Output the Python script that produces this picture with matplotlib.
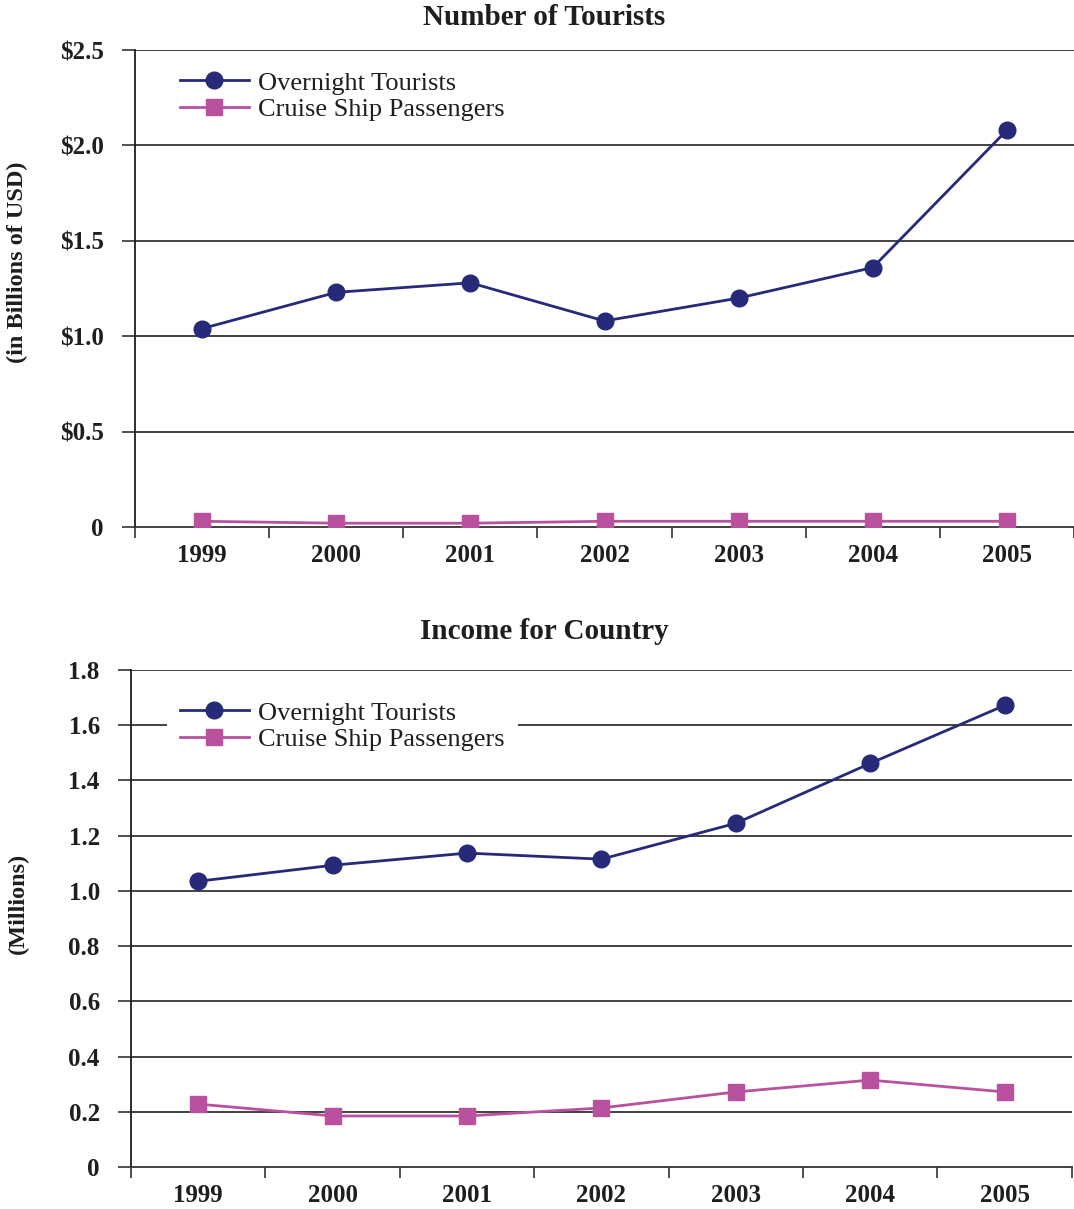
import matplotlib
matplotlib.use("Agg")
import matplotlib.pyplot as plt
import numpy as np

plt.rcParams['font.family'] = ['Liberation Serif', 'DejaVu Serif']

years = ['1999', '2000', '2001', '2002', '2003', '2004', '2005']

# top chart: Number of Tourists (in Billions of USD)
tourists_overnight = [1.04, 1.23, 1.28, 1.08, 1.20, 1.36, 2.08]
tourists_cruise = [0.03, 0.02, 0.02, 0.03, 0.03, 0.03, 0.03]
top_ticks = [0, 0.5, 1.0, 1.5, 2.0, 2.5]
top_labels = ['0', '$0.5', '$1.0', '$1.5', '$2.0', '$2.5']

# bottom chart: Income for Country (Millions)
income_overnight = [1.035, 1.093, 1.137, 1.115, 1.245, 1.462, 1.672]
income_cruise = [0.228, 0.185, 0.185, 0.214, 0.272, 0.315, 0.272]
bot_ticks = [0, 0.2, 0.4, 0.6, 0.8, 1.0, 1.2, 1.4, 1.6, 1.8]
bot_labels = ['0', '0.2', '0.4', '0.6', '0.8', '1.0', '1.2', '1.4', '1.6', '1.8']

navy = '#262a78'
pink = '#b9519f'
ink = '#1e1e1e'

fig = plt.figure(figsize=(10.74, 12.09), dpi=100)
ax1 = fig.add_axes([0.1257, 0.5641, 0.8743, 0.3945])
ax2 = fig.add_axes([0.122, 0.0347, 0.876, 0.4111])


def draw(ax, over, cruise, ticks, labels, ylabel, ylab_xy, leg_xy):
    x = np.arange(len(years))
    for t in ticks[1:]:
        ax.axhline(t, color='#333333', lw=1.3, zorder=1)
    ax.plot(x, over, color=navy, lw=2, marker='o', ms=12, label='Overnight Tourists', zorder=3)
    ax.plot(x, cruise, color=pink, lw=2, marker='s', ms=11, label='Cruise Ship Passengers', zorder=3)
    ax.set_xlim(-0.5, len(years) - 0.5)
    ax.set_ylim(0, ticks[-1])
    ax.set_yticks(ticks)
    ax.set_yticklabels(labels)
    ax.set_xticks(x)
    ax.set_xticklabels(years)
    ax.set_xticks(np.arange(-0.5, len(years)), minor=True)
    ax.tick_params(axis='x', which='major', length=0, pad=12)
    ax.tick_params(axis='x', which='minor', length=8, width=1.2, color='#333333')
    ax.tick_params(axis='y', length=9.5, width=1.2, color='#333333', pad=13)
    for lab in ax.get_xticklabels() + ax.get_yticklabels():
        lab.set_fontsize(18)
        lab.set_fontweight('bold')
        lab.set_color(ink)
    ax.spines['top'].set_visible(False)
    ax.spines['right'].set_visible(False)
    ax.spines['left'].set_color(ink)
    ax.spines['left'].set_linewidth(1.3)
    ax.spines['bottom'].set_color('#333333')
    ax.spines['bottom'].set_linewidth(1.3)
    ax.set_ylabel(ylabel, fontsize=17.5, fontweight='bold', color=ink)
    ax.yaxis.set_label_coords(*ylab_xy)
    leg = ax.legend(loc='upper left', bbox_to_anchor=leg_xy, fontsize=19, frameon=True,
                    fancybox=False, edgecolor='none', facecolor='white', framealpha=1,
                    handlelength=2.6, handletextpad=0.35, labelspacing=0.12,
                    borderpad=0.5, borderaxespad=0)
    leg.set_zorder(5)
    for txt in leg.get_texts():
        txt.set_color(ink)


draw(ax1, tourists_overnight, tourists_cruise, top_ticks, top_labels,
     '(in Billions of USD)', (-0.114, 0.556), (0.034, 0.9835))
draw(ax2, income_overnight, income_cruise, bot_ticks, bot_labels,
     '(Millions)', (-0.109, 0.531), (0.038, 0.964))

fig.text(0.507, 0.9855, 'Number of Tourists', ha='center', va='center',
         fontsize=21, fontweight='bold', color=ink)
fig.text(0.507, 0.4780, 'Income for Country', ha='center', va='center',
         fontsize=21, fontweight='bold', color=ink)

fig.savefig('out.png', dpi=100)
